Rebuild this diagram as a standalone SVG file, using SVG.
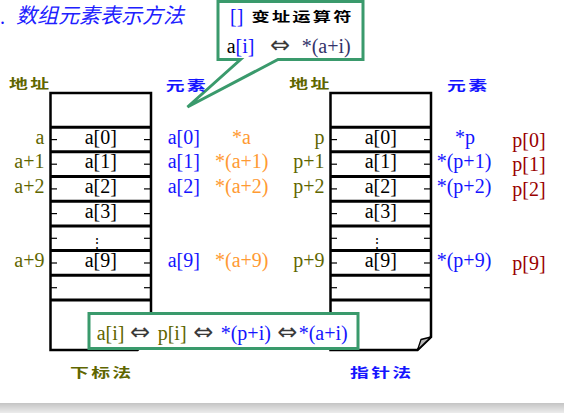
<svg xmlns="http://www.w3.org/2000/svg" width="564" height="413" viewBox="0 0 564 413">
<defs>
<linearGradient id="gb" x1="0" y1="0" x2="0" y2="1">
<stop offset="0" stop-color="#c4c4c4"/>
<stop offset="1" stop-color="#ececec"/>
</linearGradient>
</defs>
<style>
.s{font-family:"Liberation Serif","Times New Roman",serif;font-size:20px}
.ar{font-family:"DejaVu Sans",sans-serif;font-size:24px;fill:#3a3a3a}
.cjk{font-family:"Noto Sans CJK SC",sans-serif;font-weight:bold;font-size:13px;letter-spacing:1.6px}
.ol{fill:#5f6600}
.bl{fill:#1414ff}
.or{fill:#ff9a33}
.rd{fill:#990000}
.k{fill:#000}
.box{fill:#fff;stroke:#000;stroke-width:2.5}
.hl{stroke:#000;stroke-width:3}
.tk{stroke:#000;stroke-width:1.2}
.gr{fill:#fff;stroke:#3a9a6c;stroke-width:3}
.fold{fill:#b8b8b8;stroke:#000;stroke-width:1.3;stroke-linejoin:round}
</style>
<rect x="0" y="0" width="564" height="413" fill="#fff"/>
<rect x="0" y="403" width="564" height="10" fill="url(#gb)"/>

<g id="title">
<text x="0" y="24" class="s bl">.</text>
<text x="16" y="23" font-family="Noto Sans CJK SC,sans-serif" font-size="21" font-style="italic" fill="#2020ff">数组元素表示方法</text>
</g>

<g id="connectors"></g>

<g id="callout-top">
<path class="gr" d="M218,1.5 H363 V59.5 H278 L187.5,107 L240.5,59.5 H218 Z"/>
<text x="230" y="23" class="s bl">[]</text>
<text class="cjk k" font-size="12" letter-spacing="2.5" transform="translate(251.5,21) scale(1.4,1)">变址运算符</text>
<text x="226.7" y="53" class="s k">a<tspan class="bl">[i]</tspan></text>
<text x="270" y="53" class="ar">⇔</text>
<text x="301.7" y="53" class="s" fill="#33336b">*(a+i)</text>
</g>

<g id="headers">
<text class="cjk ol" transform="translate(9,88) scale(1.45,1)">地址</text>
<text class="cjk bl" transform="translate(165.7,89.5) scale(1.45,1)">元素</text>
<text class="cjk ol" transform="translate(289.3,88) scale(1.45,1)">地址</text>
<text class="cjk bl" transform="translate(447,89.5) scale(1.45,1)">元素</text>
</g>

<g id="array-subscript">
<path class="box" d="M50.5,93 H151 V337 L137.5,350 H50.5 Z"/>
<path class="fold" d="M137.5,350 L141,339.5 L151,337 Z"/>
<g class="hl">
<line x1="51" y1="127.3" x2="150" y2="127.3"/>
<line x1="51" y1="151.8" x2="150" y2="151.8"/>
<line x1="51" y1="176.5" x2="150" y2="176.5"/>
<line x1="51" y1="201.2" x2="150" y2="201.2"/>
<line x1="51" y1="225.9" x2="150" y2="225.9"/>
<line x1="51" y1="250.6" x2="150" y2="250.6"/>
<line x1="51" y1="275.3" x2="150" y2="275.3"/>
<line x1="51" y1="300.1" x2="150" y2="300.1"/>
</g>
<g class="tk">
<line x1="51" y1="139.6" x2="57" y2="139.6"/><line x1="144" y1="139.6" x2="150" y2="139.6"/>
<line x1="51" y1="164.2" x2="57" y2="164.2"/><line x1="144" y1="164.2" x2="150" y2="164.2"/>
<line x1="51" y1="188.9" x2="57" y2="188.9"/><line x1="144" y1="188.9" x2="150" y2="188.9"/>
<line x1="51" y1="213.6" x2="57" y2="213.6"/><line x1="144" y1="213.6" x2="150" y2="213.6"/>
<line x1="51" y1="238.3" x2="57" y2="238.3"/><line x1="144" y1="238.3" x2="150" y2="238.3"/>
<line x1="51" y1="263" x2="57" y2="263"/><line x1="144" y1="263" x2="150" y2="263"/>
<line x1="51" y1="287.7" x2="57" y2="287.7"/><line x1="144" y1="287.7" x2="150" y2="287.7"/>
</g>
<g class="s k" text-anchor="middle">
<text x="100.8" y="143.5">a[0]</text>
<text x="100.8" y="168.2">a[1]</text>
<text x="100.8" y="192.9">a[2]</text>
<text x="100.8" y="217.6">a[3]</text>
<text x="97" y="247.5" font-family="DejaVu Serif,serif" font-size="14">⋮</text>
<text x="100.8" y="267">a[9]</text>
</g>
<g class="s ol" text-anchor="end">
<text x="44.5" y="143.5">a</text>
<text x="44.5" y="168.2">a+1</text>
<text x="44.5" y="192.9">a+2</text>
<text x="44.5" y="267">a+9</text>
</g>
<g class="s bl">
<text x="167.7" y="143.5">a[0]</text>
<text x="167.7" y="168.2">a[1]</text>
<text x="167.7" y="192.9">a[2]</text>
<text x="167.7" y="267">a[9]</text>
</g>
<g class="s or">
<text x="232" y="143.5">*a</text>
<text x="215" y="168.2">*(a+1)</text>
<text x="215" y="192.9">*(a+2)</text>
<text x="215" y="267">*(a+9)</text>
</g>
<text class="cjk ol" letter-spacing="2.2" transform="translate(70,377) scale(1.45,1)">下标法</text>
</g>

<g id="array-pointer">
<path class="box" d="M330.5,93 H431 V337 L417.5,350 H330.5 Z"/>
<path class="fold" d="M417.5,350 L421,339.5 L431,337 Z"/>
<g class="hl">
<line x1="331" y1="127.3" x2="430" y2="127.3"/>
<line x1="331" y1="151.8" x2="430" y2="151.8"/>
<line x1="331" y1="176.5" x2="430" y2="176.5"/>
<line x1="331" y1="201.2" x2="430" y2="201.2"/>
<line x1="331" y1="225.9" x2="430" y2="225.9"/>
<line x1="331" y1="250.6" x2="430" y2="250.6"/>
<line x1="331" y1="275.3" x2="430" y2="275.3"/>
<line x1="331" y1="300.1" x2="430" y2="300.1"/>
</g>
<g class="tk">
<line x1="331" y1="139.6" x2="337" y2="139.6"/><line x1="424" y1="139.6" x2="430" y2="139.6"/>
<line x1="331" y1="164.2" x2="337" y2="164.2"/><line x1="424" y1="164.2" x2="430" y2="164.2"/>
<line x1="331" y1="188.9" x2="337" y2="188.9"/><line x1="424" y1="188.9" x2="430" y2="188.9"/>
<line x1="331" y1="213.6" x2="337" y2="213.6"/><line x1="424" y1="213.6" x2="430" y2="213.6"/>
<line x1="331" y1="238.3" x2="337" y2="238.3"/><line x1="424" y1="238.3" x2="430" y2="238.3"/>
<line x1="331" y1="263" x2="337" y2="263"/><line x1="424" y1="263" x2="430" y2="263"/>
<line x1="331" y1="287.7" x2="337" y2="287.7"/><line x1="424" y1="287.7" x2="430" y2="287.7"/>
</g>
<g class="s k" text-anchor="middle">
<text x="380.8" y="143.5">a[0]</text>
<text x="380.8" y="168.2">a[1]</text>
<text x="380.8" y="192.9">a[2]</text>
<text x="380.8" y="217.6">a[3]</text>
<text x="377" y="247.5" font-family="DejaVu Serif,serif" font-size="14">⋮</text>
<text x="380.8" y="267">a[9]</text>
</g>
<g class="s ol" text-anchor="end">
<text x="324.5" y="143.5">p</text>
<text x="324.5" y="168.2">p+1</text>
<text x="324.5" y="192.9">p+2</text>
<text x="324.5" y="267">p+9</text>
</g>
<g class="s bl">
<text x="455" y="143.5">*p</text>
<text x="436.7" y="168.2">*(p+1)</text>
<text x="436.7" y="192.9">*(p+2)</text>
<text x="436.7" y="267">*(p+9)</text>
</g>
<g class="s rd">
<text x="512.3" y="146.5">p[0]</text>
<text x="512.3" y="171.2">p[1]</text>
<text x="512.3" y="195.9">p[2]</text>
<text x="512.3" y="270">p[9]</text>
</g>
<text class="cjk bl" letter-spacing="2.2" transform="translate(350,377) scale(1.45,1)">指针法</text>
</g>

<g id="equivalence">
<rect class="gr" x="89" y="313.5" width="269" height="35"/>
<text x="96.7" y="340" class="s ol">a[i]</text>
<text x="130" y="340" class="ar">⇔</text>
<text x="157.7" y="340" class="s ol">p[i]</text>
<text x="193.3" y="340" class="ar">⇔</text>
<text x="220.7" y="340" class="s bl">*(p+i)</text>
<text x="277.3" y="340" class="ar">⇔</text>
<text x="298.7" y="340" class="s bl">*(a+i)</text>
</g>
</svg>
